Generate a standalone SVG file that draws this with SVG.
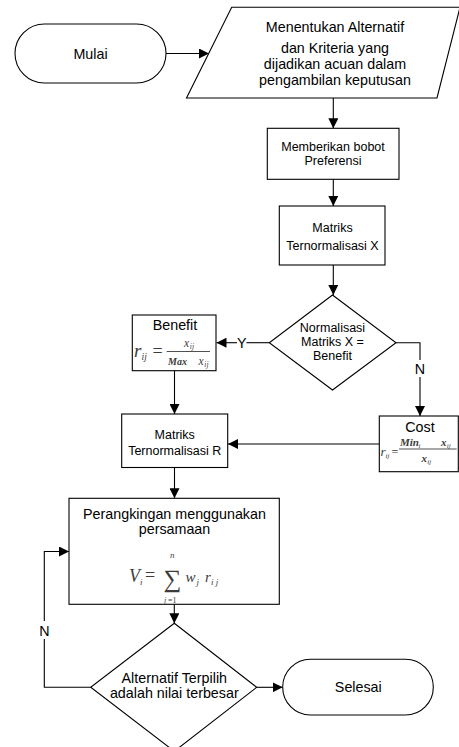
<svg xmlns="http://www.w3.org/2000/svg" width="459" height="747" viewBox="0 0 459 747">
<style>
.shape{fill:#fff;stroke:#000;stroke-width:1.1}
.t{font-family:"Liberation Sans",Arial,sans-serif;fill:#000;text-anchor:middle}
.big{font-size:14.3px}
.sm{font-size:12.5px}
.conn{fill:none;stroke:#000;stroke-width:1.1}
.math{font-family:"Liberation Serif","Times New Roman",serif;font-style:italic;fill:#3c3c3c}
.mr{font-family:"Liberation Serif","Times New Roman",serif;fill:#3c3c3c}
.bar{stroke:#3c3c3c;stroke-width:0.9}
</style>
<defs>
<marker id="arr" markerUnits="userSpaceOnUse" markerWidth="10" markerHeight="10" refX="10" refY="5" orient="auto">
<path d="M0,0 L10,5 L0,10 z" fill="#000"/>
</marker>
</defs>
<rect width="459" height="747" fill="#fff"/>

<g id="connectors">
<path class="conn" d="M166,53.5 H209" marker-end="url(#arr)"/>
<path class="conn" d="M333.3,98 V128.3" marker-end="url(#arr)"/>
<path class="conn" d="M333.3,179.3 V206" marker-end="url(#arr)"/>
<path class="conn" d="M333.3,265 V295" marker-end="url(#arr)"/>
<path class="conn" d="M269.3,342.7 H246.5"/>
<path class="conn" d="M237,342.7 H216.5" marker-end="url(#arr)"/>
<text class="t big" x="241.7" y="348">Y</text>
<path class="conn" d="M396,342.7 H420 V360"/>
<path class="conn" d="M420,377 V416" marker-end="url(#arr)"/>
<text class="t big" x="420" y="373.5">N</text>
<path class="conn" d="M379,444 H228" marker-end="url(#arr)"/>
<path class="conn" d="M174.5,370.7 V414" marker-end="url(#arr)"/>
<path class="conn" d="M174.5,467.5 V498.3" marker-end="url(#arr)"/>
<path class="conn" d="M174.3,604.3 V623.3" marker-end="url(#arr)"/>
<path class="conn" d="M256.7,687.3 H282.7" marker-end="url(#arr)"/>
<path class="conn" d="M90.7,687.3 H44.3 V639"/>
<path class="conn" d="M44.3,621 V551.5 H69" marker-end="url(#arr)"/>
<text class="t big" x="44.3" y="635.5">N</text>
</g>

<g id="mulai">
<rect class="shape" x="15" y="24" width="151" height="59" rx="29.5"/>
<text class="t big" x="90.5" y="58.5">Mulai</text>
</g>

<g id="alternatif">
<polygon class="shape" points="231.7,7.3 460,7.3 437,98 186.5,98"/>
<text class="t big" x="335" y="32">Menentukan Alternatif</text>
<text class="t big" x="335" y="53">dan Kriteria yang</text>
<text class="t big" x="335" y="69">dijadikan acuan dalam</text>
<text class="t big" x="335" y="85">pengambilan keputusan</text>
</g>

<g id="bobot">
<rect class="shape" x="267.3" y="128.3" width="131.7" height="51"/>
<text class="t sm" x="333" y="150.5">Memberikan bobot</text>
<text class="t sm" x="333" y="165">Preferensi</text>
</g>

<g id="matriksX">
<rect class="shape" x="279.3" y="206" width="105.7" height="59"/>
<text class="t sm" x="332.5" y="232">Matriks</text>
<text class="t sm" x="332.5" y="250">Ternormalisasi X</text>
</g>

<g id="normalisasi">
<polygon class="shape" points="332.5,295 396,342.7 332.5,390 269.3,342.7"/>
<text class="t sm" x="332.5" y="331.7">Normalisasi</text>
<text class="t sm" x="332.5" y="346">Matriks X =</text>
<text class="t sm" x="332.5" y="360.3">Benefit</text>
</g>

<g id="benefit">
<rect class="shape" x="132.3" y="315" width="83.7" height="55.7"/>
<text class="t big" x="175" y="329.5">Benefit</text>
<text class="math" x="134" y="357" font-size="19">r</text>
<text class="math" x="141.5" y="360" font-size="9.5">ij</text>
<text class="mr" x="152.5" y="357" font-size="18">=</text>
<line class="bar" x1="166.7" y1="351.5" x2="210" y2="351.5"/>
<text class="math" x="184" y="347" font-size="11.5">x</text>
<text class="math" x="189.8" y="349" font-size="7.5">ij</text>
<text class="math" x="168" y="365" font-size="10" font-weight="bold">Max</text>
<text class="math" x="198.5" y="365" font-size="11.5">x</text>
<text class="math" x="204.3" y="367" font-size="7.5">ij</text>
</g>

<g id="cost">
<rect class="shape" x="379.3" y="416" width="79" height="55.7"/>
<text class="t big" x="420" y="432">Cost</text>
<text class="math" x="380.5" y="455.5" font-size="13">r</text>
<text class="math" x="385.5" y="458" font-size="7">ij</text>
<text class="mr" x="391.5" y="455.5" font-size="12">=</text>
<line class="bar" x1="399" y1="449" x2="456.7" y2="449"/>
<text class="math" x="400" y="445.5" font-size="11" font-weight="bold">Min</text>
<text class="math" x="418.5" y="447.5" font-size="7">i</text>
<text class="math" x="441" y="445.5" font-size="11" font-weight="bold">x</text>
<text class="math" x="446.8" y="447.5" font-size="7">ij</text>
<text class="math" x="421.5" y="462" font-size="11" font-weight="bold">x</text>
<text class="math" x="427.3" y="464" font-size="7">ij</text>
</g>

<g id="matriksR">
<rect class="shape" x="121.7" y="414" width="106" height="53.5"/>
<text class="t sm" x="174.7" y="439">Matriks</text>
<text class="t sm" x="174.7" y="455">Ternormalisasi R</text>
</g>

<g id="perangkingan">
<rect class="shape" x="69" y="498.3" width="210.3" height="106"/>
<text class="t big" x="174.5" y="519.3">Perangkingan menggunakan</text>
<text class="t big" x="174.5" y="534.3">persamaan</text>
<text class="math" x="129" y="582" font-size="18">V</text>
<text class="math" x="140" y="585" font-size="9">i</text>
<text class="mr" x="145" y="581" font-size="18">=</text>
<text class="mr" x="163.5" y="587" font-size="25">∑</text>
<text class="math" x="170" y="558" font-size="9">n</text>
<text class="math" x="164" y="603" font-size="8">j</text>
<text class="mr" x="168" y="603" font-size="8">=1</text>
<text class="math" x="185.5" y="582" font-size="15">w</text>
<text class="math" x="196.5" y="585" font-size="9">j</text>
<text class="math" x="205" y="582" font-size="15">r</text>
<text class="math" x="211" y="585" font-size="9">i j</text>
</g>

<g id="terpilih">
<polygon class="shape" points="174.3,623.3 256.7,687.3 174.3,751.3 90.7,687.3"/>
<text class="t big" x="174.3" y="683.3">Alternatif Terpilih</text>
<text class="t big" x="174.3" y="697.8">adalah nilai terbesar</text>
</g>

<g id="selesai">
<rect class="shape" x="282.7" y="659.3" width="150.6" height="55.7" rx="27.8"/>
<text class="t big" x="358.3" y="692">Selesai</text>
</g>
</svg>
